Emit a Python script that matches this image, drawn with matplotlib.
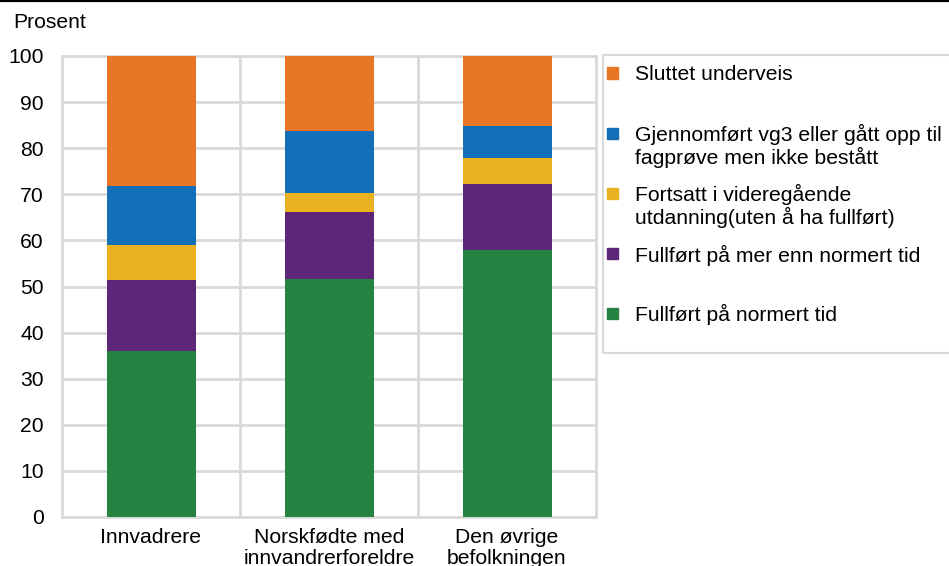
import matplotlib
matplotlib.use("Agg")
import matplotlib.pyplot as plt
from matplotlib.patches import Rectangle
from matplotlib.lines import Line2D
import numpy as np

plt.rcParams['font.family'] = ['Liberation Sans', 'DejaVu Sans']

categories = ["Innvadrere", "Norskfødte med\ninnvandrerforeldre", "Den øvrige\nbefolkningen"]
series_names = ["Fullført på normert tid", "Fullført på mer enn normert tid",
                "Fortsatt i videregående\nutdanning(uten å ha fullført)",
                "Gjennomført vg3 eller gått opp til\nfagprøve men ikke bestått",
                "Sluttet underveis"]
normert = [36.0, 51.6, 57.9]
mer_enn = [15.5, 14.6, 14.4]
fortsatt = [7.6, 4.1, 5.6]
gjennomfort = [12.8, 13.4, 6.9]
sluttet = [28.1, 16.3, 15.2]
colors = ["#268240", "#5E2678", "#EAB220", "#136FB7", "#E97625"]
yticks = [0, 10, 20, 30, 40, 50, 60, 70, 80, 90, 100]

FS = 15.2
W, H = 949, 566
fig = plt.figure(figsize=(W/100, H/100), dpi=100)
ax = fig.add_axes([62/W, (H-517)/H, (596-62)/W, (517-56)/H])

x = np.arange(len(categories))
bottom = np.zeros(len(categories))
for vals, c in zip([normert, mer_enn, fortsatt, gjennomfort, sluttet], colors):
    ax.bar(x, vals, bottom=bottom, width=0.5, color=c, zorder=3)
    bottom += np.array(vals)

grid_c = "#d9d9d9"
ax.set_xlim(-0.5, 2.5)
ax.set_ylim(0, 100)
ax.set_yticks(yticks)
ax.set_xticks(x)
ax.set_xticklabels(categories, fontsize=FS, linespacing=1.1)
ax.set_xticks([0.5, 1.5], minor=True)
ax.tick_params(axis='both', which='both', length=0, labelsize=FS)
ax.tick_params(axis='x', pad=8)
ax.tick_params(axis='y', pad=13)
ax.grid(True, axis='y', color=grid_c, lw=2, zorder=0)
ax.grid(True, axis='x', which='minor', color=grid_c, lw=2, zorder=0)
for s in ax.spines.values():
    s.set_color(grid_c)
    s.set_linewidth(2)

fig.text(13/W, 1 - 23/H, "Prosent", fontsize=FS, va='center', ha='left')

# top black rule
fig.add_artist(Line2D([0, 1], [1 - 0.8/H, 1 - 0.8/H], color='black', lw=1.6, transform=fig.transFigure))

# legend box
fig.add_artist(Rectangle((603/W, 1 - 353/H), (960-603)/W, (353-55)/H, transform=fig.transFigure,
                         fill=False, edgecolor=grid_c, lw=1.5, clip_on=False))
leg_y = [314, 255, 206, 146, 74]
for i in [4, 3, 2, 1, 0]:
    yy = leg_y[i]
    nlines = series_names[i].count("\n") + 1
    top_line_y = yy - 1 - (nlines - 1) * 11.5
    fig.add_artist(Rectangle((607/W, 1 - (top_line_y + 5.5)/H), 11/W, 11/H,
                             transform=fig.transFigure, color=colors[i]))
    fig.text(635/W, 1 - yy/H, series_names[i], fontsize=FS, va='center', ha='left',
             linespacing=1.1)

fig.savefig("out.png", dpi=100)
